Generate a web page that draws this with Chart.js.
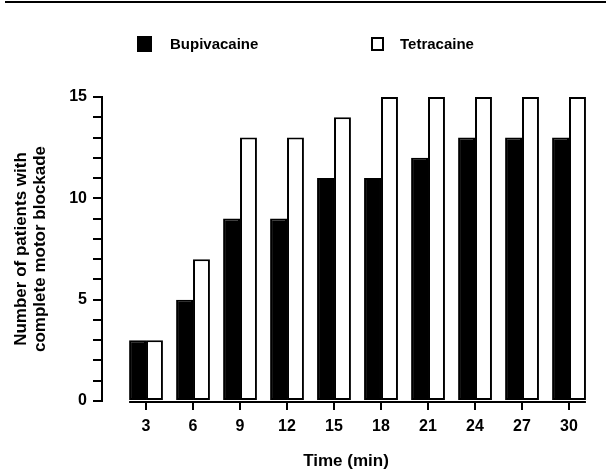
<!DOCTYPE html>
<html>
<head>
<meta charset="utf-8">
<script src="https://cdn.jsdelivr.net/npm/chart.js@4.4.1/dist/chart.umd.min.js"></script>
<style>
  html, body { margin: 0; padding: 0; background: #fff; }
  #wrap { position: relative; width: 606px; height: 472px; }
  #rule { position: absolute; left: 5px; right: 0; top: 1px; height: 2px; background: #000; }
  #legend { position: absolute; top: 35px; left: 0; width: 606px; height: 18px;
            font: bold 15px "Liberation Sans", Arial, sans-serif; color: #000; }
  .item { position: absolute; top: 0; height: 17px; display: flex; align-items: center; }
  .box { box-sizing: border-box; border: 2px solid #000; }
</style>
</head>
<body>
<div id="wrap">
  <div id="rule"></div>
  <div id="legend"></div>
  <canvas id="chart" width="606" height="472"></canvas>
</div>
<script>
// data
const times = [3, 6, 9, 12, 15, 18, 21, 24, 27, 30];
const bupivacaine = [3, 5, 9, 9, 11, 11, 12, 13, 13, 13];
const tetracaine = [3, 7, 13, 13, 14, 15, 15, 15, 15, 15];
const seriesNames = ["Bupivacaine", "Tetracaine"];
const seriesFill = ["#000", "#fff"];
const yTitle = ["Number of patients with", "complete motor blockade"];
const xTitle = "Time (min)";

const FONT = '"Liberation Sans", Arial, sans-serif';

// html legend, spaced like the original
const legendPos = [
    { left: 137, box: 15, boxH: 16, gap: 18 },
    { left: 371, box: 13, boxH: 14, gap: 16 }
];
const legend = document.getElementById("legend");
for (let i = 0; i < seriesNames.length; i++) {
    let item = document.createElement("div");
    let box = document.createElement("span");
    let label = document.createElement("span");
    item.className = "item";
    item.style.left = legendPos[i].left + "px";
    box.className = "box";
    box.style.width = legendPos[i].box + "px";
    box.style.height = legendPos[i].boxH + "px";
    box.style.marginRight = legendPos[i].gap + "px";
    box.style.background = seriesFill[i];
    label.textContent = seriesNames[i];
    item.appendChild(box);
    item.appendChild(label);
    legend.appendChild(item);
}

// baseline only spans the bars, not the gap next to the y axis
const baseLine = {
    id: "baseLine",
    afterDatasetsDraw(chart) {
        const first = chart.getDatasetMeta(0).data[0];
        const lastMeta = chart.getDatasetMeta(chart.data.datasets.length - 1).data;
        const last = lastMeta[lastMeta.length - 1];
        const y = chart.scales.y.getPixelForValue(0) + 1;
        const ctx = chart.ctx;
        ctx.save();
        ctx.strokeStyle = "#000";
        ctx.lineWidth = 2;
        ctx.beginPath();
        ctx.moveTo(first.x - first.width / 2, y);
        ctx.lineTo(last.x + last.width / 2, y);
        ctx.stroke();
        ctx.restore();
    }
};

function toPoints(values) {
    return times.map((t, i) => ({ x: t, y: values[i] }));
}

new Chart(document.getElementById("chart"), {
    type: "bar",
    data: {
        datasets: [
            {
                label: seriesNames[0],
                data: toPoints(bupivacaine),
                backgroundColor: seriesFill[0],
                borderColor: "#000",
                borderWidth: 2,
                borderSkipped: false
            },
            {
                label: seriesNames[1],
                data: toPoints(tetracaine),
                backgroundColor: seriesFill[1],
                borderColor: "#000",
                borderWidth: 2,
                borderSkipped: false
            }
        ]
    },
    options: {
        responsive: false,
        animation: false,
        datasets: {
            bar: { categoryPercentage: 0.72, barPercentage: 1 }
        },
        layout: { padding: { top: 97, right: 16, bottom: 0, left: 0 } },
        plugins: {
            legend: { display: false },
            tooltip: { enabled: false }
        },
        scales: {
            x: {
                type: "linear",
                min: 0.19,
                max: 31.34,
                offset: false,
                afterBuildTicks: (scale) => {
                    scale.ticks = times.map(v => ({ value: v }));
                },
                afterFit: (scale) => { scale.height = 71; },
                ticks: {
                    color: "#000",
                    padding: 7,
                    font: { family: FONT, size: 16, weight: "bold" },
                    callback: (v) => String(v)
                },
                grid: { offset: false, drawOnChartArea: false, drawTicks: true, tickLength: 9, color: "#000", lineWidth: 2 },
                border: { display: false },
                title: {
                    display: true,
                    text: xTitle,
                    color: "#000",
                    font: { family: FONT, size: 17, weight: "bold", lineHeight: 1.2 },
                    padding: { top: 0, bottom: 0 }
                }
            },
            y: {
                min: 0,
                max: 15,
                afterFit: (scale) => { scale.width = 102; },
                ticks: {
                    stepSize: 1,
                    autoSkip: false,
                    color: "#000",
                    padding: 6,
                    font: { family: FONT, size: 16, weight: "bold" },
                    callback: (v) => (v % 5 === 0 ? String(v) : "")
                },
                grid: { drawOnChartArea: false, drawTicks: true, tickLength: 9, color: "#000", lineWidth: 2 },
                border: { display: true, color: "#000", width: 2 },
                title: {
                    display: true,
                    text: yTitle,
                    color: "#000",
                    font: { family: FONT, size: 17, weight: "bold", lineHeight: 1.1 },
                    padding: { top: 12, bottom: 0 }
                }
            }
        }
    },
    plugins: [baseLine]
});
</script>
</body>
</html>
